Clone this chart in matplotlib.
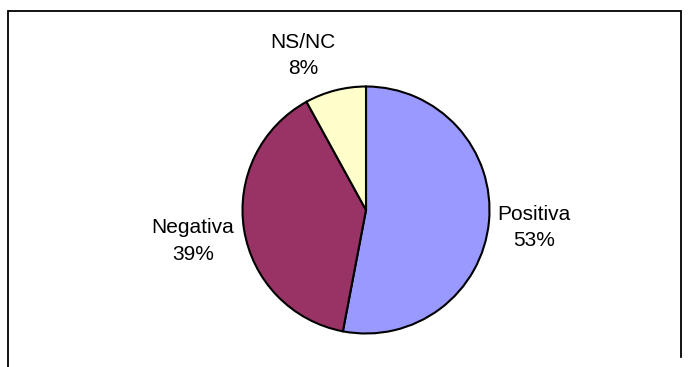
import matplotlib.pyplot as plt

# data
categorias = ['Positiva', 'Negativa', 'NS/NC']
porcentajes = [53, 39, 8]
colores = ['#9999FF', '#993366', '#FFFFCC']

# label offsets (in pie radii, relative to centre)
label_pos = [(1.36, -0.14), (-1.40, -0.25), (-0.51, 1.25)]

W, H = 694, 367
fig = plt.figure(figsize=(W / 100, H / 100), dpi=100, facecolor='white')
ax = fig.add_axes([0, 0, 1, 1])

cx, cy, r = 366, H - 210, 123.5

wedges, _ = ax.pie(porcentajes, colors=colores, startangle=90, counterclock=False,
                   center=(cx, cy), radius=r, frame=True,
                   wedgeprops={'edgecolor': 'black', 'linewidth': 1.5})
ax.set_xlim(0, W)
ax.set_ylim(0, H)
ax.set_aspect('auto')
ax.axis('off')

for cat, pct, (dx, dy) in zip(categorias, porcentajes, label_pos):
    ax.text(cx + dx * r, cy + dy * r, f'{cat}\n{pct}%', ha='center', va='center',
            fontsize=15, family='Liberation Sans', color='black', linespacing=1.5)

# marco del grafico (arriba, izquierda, derecha)
ax.plot([8.5, 8.5, 681.5, 681.5], [0, H - 11, H - 11, 10], color='black', lw=1.3,
        solid_joinstyle='miter', clip_on=False)

fig.savefig('out.png', dpi=100, facecolor='white')
